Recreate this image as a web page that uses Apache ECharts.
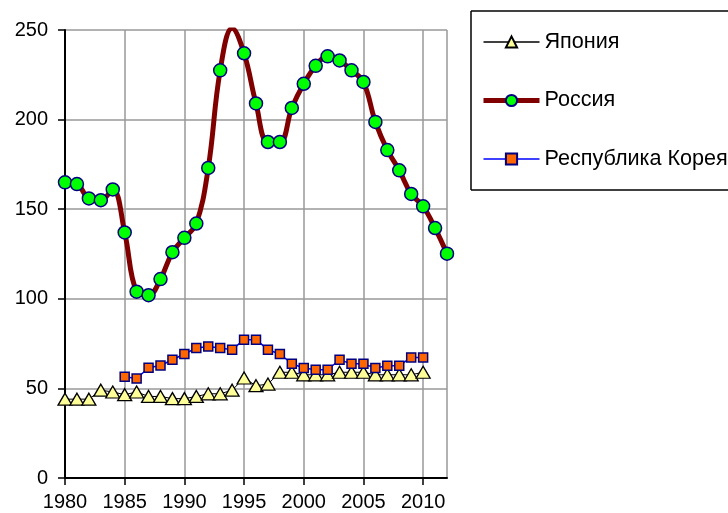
<!DOCTYPE html>
<html>
<head>
<meta charset="utf-8">
<script src="https://cdn.jsdelivr.net/npm/echarts@6/dist/echarts.min.js"></script>
<style>
html,body{margin:0;padding:0;background:#fff;overflow:hidden;}
#chart{width:728px;height:513px;}
</style>
</head>
<body>
<div id="chart"></div>
<script>
var years = [];
for (var y = 1980; y <= 2012; y++) years.push(String(y));

var seriesNames = ['Япония', 'Россия', 'Республика Корея'];

var japan = [44, 44, 44, 49, 48, 46.5, 48, 45.5, 45.5, 44.3, 44.3, 45.5, 47, 47, 49, 55.8,
  51.5, 52.4, 59, 59, 57.6, 57.6, 57.6, 59, 59, 59, 57.6, 57.6, 57.6, 57.6, 59, null, null];

var russia = [165, 164, 156, 155, 161, 137, 104, 102, 111, 126, 134, 142, 173, 227.5, 251, 237,
  209, 187.5, 187.5, 206.5, 220, 230, 235.3, 233, 227.5, 221, 198.7, 183, 171.7, 158.5, 151.6, 139.5, 125.2];

var korea = [null, null, null, null, null, 56.5, 55.5, 61.5, 62.8, 66, 69.2, 72.5, 73.4, 72.5, 71.6, 77.2,
  77.2, 71.6, 69.2, 63.8, 61.4, 60.4, 60.4, 66, 63.7, 63.7, 61.4, 62.7, 62.7, 67.3, 67.3, null, null];

var yTicks = [0, 50, 100, 150, 200, 250];

var FONT = 'Liberation Sans, Arial, sans-serif';
var chart = echarts.init(document.getElementById('chart'), null, {renderer: 'canvas'});
chart.setOption({
  backgroundColor: '#ffffff',
  animation: false,
  graphic: [
    {type: 'line', shape: {x1: 471, y1: 11, x2: 800, y2: 11}, style: {stroke: '#000', lineWidth: 1.5}, silent: true},
    {type: 'line', shape: {x1: 471, y1: 190, x2: 800, y2: 190}, style: {stroke: '#000', lineWidth: 1.5}, silent: true},
    {type: 'line', shape: {x1: 471, y1: 11, x2: 471, y2: 190}, style: {stroke: '#000', lineWidth: 1.5}, silent: true}
  ],
  grid: {left: 65, top: 30, right: 281, bottom: 35, containLabel: false},
  legend: {
    orient: 'vertical',
    left: 471,
    top: 11,
    padding: [20, 0, 23, 10],
    itemGap: 36.5,
    itemWidth: 56,
    itemHeight: 14,
    borderWidth: 0,
    backgroundColor: 'transparent',
    z: 5,
    textStyle: {fontFamily: FONT, fontSize: 21.6, color: '#000', padding: [0, 0, 0, 0]},
    data: [
      {name: seriesNames[0], lineStyle: {width: 1.3, color: '#000'}},
      {name: seriesNames[1], lineStyle: {width: 5, color: '#800000'}},
      {name: seriesNames[2], lineStyle: {width: 1.5, color: '#0000ff'}}
    ]
  },
  xAxis: {
    type: 'category',
    data: years,
    boundaryGap: false,
    axisLine: {lineStyle: {color: '#000', width: 2}},
    axisTick: {
      interval: function (i, v) { return (+v) % 5 === 0; },
      length: 7,
      lineStyle: {color: '#000', width: 1.5}
    },
    axisLabel: {
      interval: function (i, v) { return (+v) % 5 === 0; },
      fontFamily: FONT, fontSize: 20, color: '#000', margin: 14
    },
    splitLine: {
      show: true,
      interval: function (i, v) { return (+v) % 5 === 0 || +v === 2012; },
      lineStyle: {color: '#999', width: 1.5}
    }
  },
  yAxis: {
    type: 'value',
    min: yTicks[0],
    max: yTicks[yTicks.length - 1],
    interval: 50,
    axisLine: {show: true, lineStyle: {color: '#000', width: 2}},
    axisTick: {show: true, length: 7, lineStyle: {color: '#000', width: 1.5}},
    axisLabel: {fontFamily: FONT, fontSize: 20, color: '#000', margin: 17},
    splitLine: {show: true, lineStyle: {color: '#999', width: 1.5}}
  },
  series: [
    {
      name: seriesNames[0],
      type: 'line',
      data: japan,
      showAllSymbol: true,
      symbol: 'triangle',
      symbolSize: [14, 12],
      lineStyle: {color: '#000', width: 1},
      itemStyle: {color: '#ffff99', borderColor: '#000', borderWidth: 1.3},
      z: 3
    },
    {
      name: seriesNames[1],
      type: 'line',
      data: russia,
      showAllSymbol: true,
      smooth: 0.4,
      symbol: 'circle',
      symbolSize: 13,
      lineStyle: {color: '#800000', width: 5},
      itemStyle: {color: '#00ff00', borderColor: '#000080', borderWidth: 1.5},
      z: 4
    },
    {
      name: seriesNames[2],
      type: 'line',
      data: korea,
      showAllSymbol: true,
      symbol: 'rect',
      symbolSize: 9,
      lineStyle: {color: '#0000ff', width: 1.5},
      itemStyle: {color: '#ff6600', borderColor: '#000080', borderWidth: 1.5},
      z: 5
    }
  ]
});
</script>
</body>
</html>
